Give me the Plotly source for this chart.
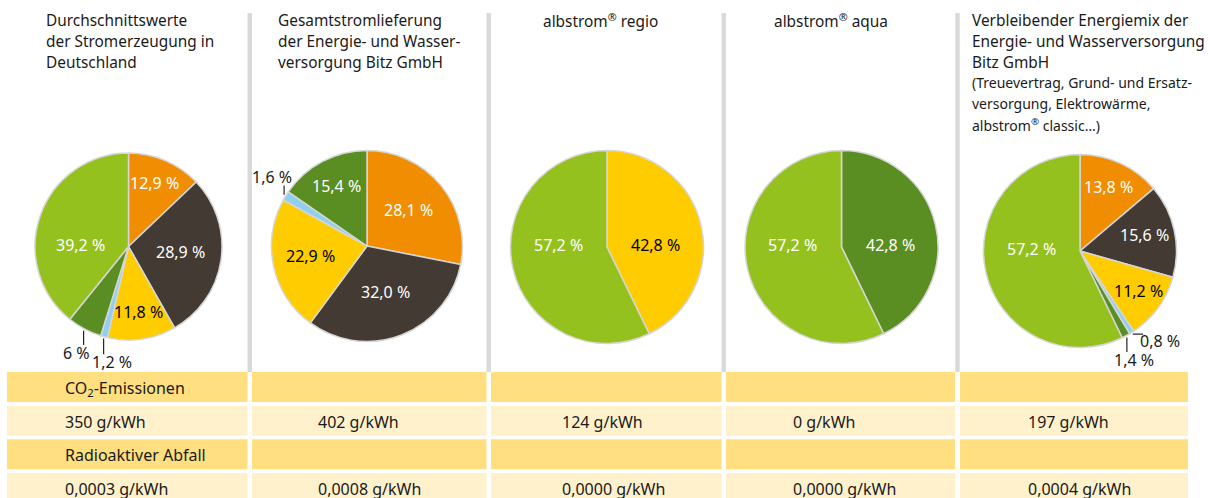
import math
import plotly.graph_objects as go

W, H = 1210, 498

# ---------------- data ----------------
CATEGORIES = ["Kernkraft", "Kohle", "Erdgas", "Sonstige fossile Energieträger",
              "Erneuerbare Energien", "Erneuerbare Energien, gefördert nach EEG"]
CAT_COLORS = {
    "Kernkraft": "#F18D00",
    "Kohle": "#443A34",
    "Erdgas": "#FFCC00",
    "Sonstige fossile Energieträger": "#8FD0EE",
    "Erneuerbare Energien": "#5B8E22",
    "Erneuerbare Energien, gefördert nach EEG": "#95C11F",
}
DARK_TEXT_CATS = {"Erdgas"}

pie1_labels = ["Kernkraft", "Kohle", "Erdgas", "Sonstige fossile Energieträger",
               "Erneuerbare Energien", "Erneuerbare Energien, gefördert nach EEG"]
pie1_values = [12.9, 28.9, 11.8, 1.2, 6, 39.2]

pie2_labels = ["Kernkraft", "Kohle", "Erdgas", "Sonstige fossile Energieträger",
               "Erneuerbare Energien"]
pie2_values = [28.1, 32.0, 22.9, 1.6, 15.4]

pie3_labels = ["Erdgas", "Erneuerbare Energien, gefördert nach EEG"]
pie3_values = [42.8, 57.2]

pie4_labels = ["Erneuerbare Energien", "Erneuerbare Energien, gefördert nach EEG"]
pie4_values = [42.8, 57.2]

pie5_labels = ["Kernkraft", "Kohle", "Erdgas", "Sonstige fossile Energieträger",
               "Erneuerbare Energien", "Erneuerbare Energien, gefördert nach EEG"]
pie5_values = [13.8, 15.6, 11.2, 0.8, 1.4, 57.2]

heading_main = [
    ["Durchschnittswerte", "der Stromerzeugung in", "Deutschland"],
    ["Gesamtstromlieferung", "der Energie- und Wasser-", "versorgung Bitz GmbH"],
    ["albstrom<sup>®</sup> regio"],
    ["albstrom<sup>®</sup> aqua"],
    ["Verbleibender Energiemix der", "Energie- und Wasserversorgung", "Bitz GmbH"],
]
heading_sub = [[], [], [], [],
               ["(Treuevertrag, Grund- und Ersatz-", "versorgung, Elektrowärme,",
                "albstrom<sup>®</sup> classic…)"]]

row_titles = ["CO<sub>2</sub>-Emissionen", "Radioaktiver Abfall"]
co2_values = [350, 402, 124, 0, 197]          # g/kWh
radioactive_values = [0.0003, 0.0008, 0.0000, 0.0000, 0.0004]  # g/kWh

# ---------------- layout constants (pixels) ----------------
PIE_GEOM = [(128.5, 246.5, 93.5), (367, 246, 95.5), (607, 247, 96.5),
            (841.5, 247, 96.5), (1080, 251, 96.5)]
COL_RANGES = [(7, 247.5), (252, 486.5), (491, 721.5), (726, 955), (960, 1188)]
SEP_X = [249.7, 488.7, 723.7, 957.5]
TEXT_X = [63, 316, 560, 791, 1026]
HEAD_X = [(43.5, "left"), (275.5, "left"), (600, "center"), (831, "center"), (970, "left")]
ROW_TOPS = [372, 405.7, 439.3, 473]
ROW_H = 30
ROW_FILLS = ["#FFDF7F", "#FFF1CC", "#FFDF7F", "#FFF1CC"]
FONT = "Noto Sans"
TXT = "#1a1a1a"
FS = 16
FS_HEAD = 15.4
FS_SUB = 14
OUT_THRESHOLD = 10


def px(x):
    return x / W


def py(y):
    return 1 - y / H


def fmt_pct(v):
    return str(v).replace(".", ",") + " %"


def overlaps(a, b):
    return (abs(a["lx"] - b["lx"]) < (a["w"] + b["w"]) / 2 + 2 and
            abs(a["ly"] - b["ly"]) < (a["h"] + b["h"]) / 2)


fig = go.Figure()
shapes = []
annotations = []

pies = [(pie1_labels, pie1_values), (pie2_labels, pie2_values),
        (pie3_labels, pie3_values), (pie4_labels, pie4_values),
        (pie5_labels, pie5_values)]

for (labels, values), (cx, cy, r) in zip(pies, PIE_GEOM):
    texts = [fmt_pct(v) for v in values]
    fig.add_trace(go.Pie(
        labels=labels, values=values, textinfo="none",
        marker=dict(colors=[CAT_COLORS[l] for l in labels],
                    line=dict(color="#d6d6d6", width=1.5)),
        sort=False, direction="clockwise", rotation=0,
        domain=dict(x=[px(cx - r), px(cx + r)], y=[py(cy + r), py(cy - r)]),
        showlegend=False, hoverinfo="skip",
    ))

    total = sum(values)
    cum = 0
    outs = []
    for lab, v, t in zip(labels, values, texts):
        a0 = 2 * math.pi * cum / total
        a1 = 2 * math.pi * (cum + v) / total
        theta = (a0 + a1) / 2
        half = (a1 - a0) / 2
        cum += v
        if v >= OUT_THRESHOLD:
            # inside label: centre of the largest circle inscribed in the slice;
            # wide slices crossing the horizontal axis keep their label on it
            s = math.sin(half)
            r_ins = min(s / (1 + s), 0.5)
            rc = (1 - r_ins) * r
            ang = theta
            if half > math.radians(60):
                for axis in (math.pi / 2, 3 * math.pi / 2):
                    if a0 < axis < a1:
                        ang = axis
            ldx, ldy = math.sin(ang), -math.cos(ang)
            annotations.append(dict(
                x=px(cx + rc * ldx), y=py(cy + rc * ldy - 2), xref="paper", yref="paper",
                text=t, showarrow=False, xanchor="center", yanchor="middle",
                font=dict(family=FONT, size=FS,
                          color="#000000" if lab in DARK_TEXT_CATS else "#ffffff")))
            continue
        dx, dy = math.sin(theta), -math.cos(theta)
        w, h = len(t) * 8.2, 18
        ex, ey = (r + 16) * dx, (r + 16) * dy
        vert = (ex, ey + (h / 2 + 1) * (1 if dy > 0 else -1))
        ex, ey = (r + 10) * dx, (r + 10) * dy
        side = (ex + (w / 2 + 2) * (1 if dx > 0 else -1), ey)
        prim, alt = (vert, side) if abs(dy) > 0.5 else (side, vert)
        outs.append(dict(v=v, t=t, w=w, h=h, lx=prim[0], ly=prim[1], alt=alt,
                         sx=1.02 * r * dx, sy=1.02 * r * dy))
    # resolve overlaps: the smaller label tries the other placement, else moves sideways
    for a in sorted(outs, key=lambda o: o["v"]):
        others = [b for b in outs if b is not a and b["v"] >= a["v"]]
        if not any(overlaps(a, b) for b in others):
            continue
        trial = dict(a, lx=a["alt"][0], ly=a["alt"][1])
        if not any(overlaps(trial, b) for b in others):
            a["lx"], a["ly"] = trial["lx"], trial["ly"]
            continue
        for b in others:
            if overlaps(a, b):
                sgn = 1 if a["lx"] >= b["lx"] else -1
                a["lx"] = b["lx"] + sgn * ((a["w"] + b["w"]) / 2 + 2)
    for o in outs:
        bx0, bx1 = o["lx"] - o["w"] / 2 + 4, o["lx"] + o["w"] / 2 - 4
        by0, by1 = o["ly"] - o["h"] / 2 + 1, o["ly"] + o["h"] / 2 - 1
        nx = min(max(o["sx"], bx0), bx1)
        ny = min(max(o["sy"], by0), by1)
        shapes.append(dict(type="line", xref="paper", yref="paper",
                           x0=px(cx + o["sx"]), y0=py(cy + o["sy"]),
                           x1=px(cx + nx), y1=py(cy + ny),
                           line=dict(color="#222222", width=1.2)))
        annotations.append(dict(x=px(cx + o["lx"]), y=py(cy + o["ly"]),
                                xref="paper", yref="paper", text=o["t"],
                                showarrow=False, xanchor="center", yanchor="middle",
                                font=dict(family=FONT, size=FS, color=TXT)))

# separators
for sx in SEP_X:
    shapes.append(dict(type="rect", xref="paper", yref="paper",
                       x0=px(sx - 2.2), x1=px(sx + 2.2), y0=py(372), y1=py(13),
                       fillcolor="#d9d9d9", line=dict(width=0), layer="below"))

# headings
for (hx, align), main, sub in zip(HEAD_X, heading_main, heading_sub):
    for i, line in enumerate(main + sub):
        annotations.append(dict(
            x=px(hx), y=py(20.5 + 20.8 * i), xref="paper", yref="paper",
            text=line, showarrow=False, xanchor=align, yanchor="middle",
            font=dict(family=FONT, size=FS_HEAD if i < len(main) else FS_SUB, color=TXT)))

# table
for k, top in enumerate(ROW_TOPS):
    for (x0, x1) in COL_RANGES:
        shapes.append(dict(type="rect", xref="paper", yref="paper",
                           x0=px(x0), x1=px(x1), y0=py(top + ROW_H), y1=py(top),
                           fillcolor=ROW_FILLS[k], line=dict(width=0), layer="below"))

row_texts = [
    [row_titles[0]],
    [f"{v} g/kWh" for v in co2_values],
    [row_titles[1]],
    [f"{v:.4f}".replace(".", ",") + " g/kWh" for v in radioactive_values],
]
for k, texts in enumerate(row_texts):
    for tx, t in zip(TEXT_X, texts):
        annotations.append(dict(
            x=px(tx), y=py(ROW_TOPS[k] + 16), xref="paper", yref="paper",
            text=t, showarrow=False, xanchor="left", yanchor="middle",
            font=dict(family=FONT, size=FS, color=TXT)))

fig.update_layout(
    width=W, height=H, autosize=False,
    margin=dict(l=0, r=0, t=0, b=0),
    paper_bgcolor="white", plot_bgcolor="white",
    shapes=shapes, annotations=annotations,
    font=dict(family=FONT, size=FS, color=TXT),
)

fig.write_html("out.html", config={"displayModeBar": False})
